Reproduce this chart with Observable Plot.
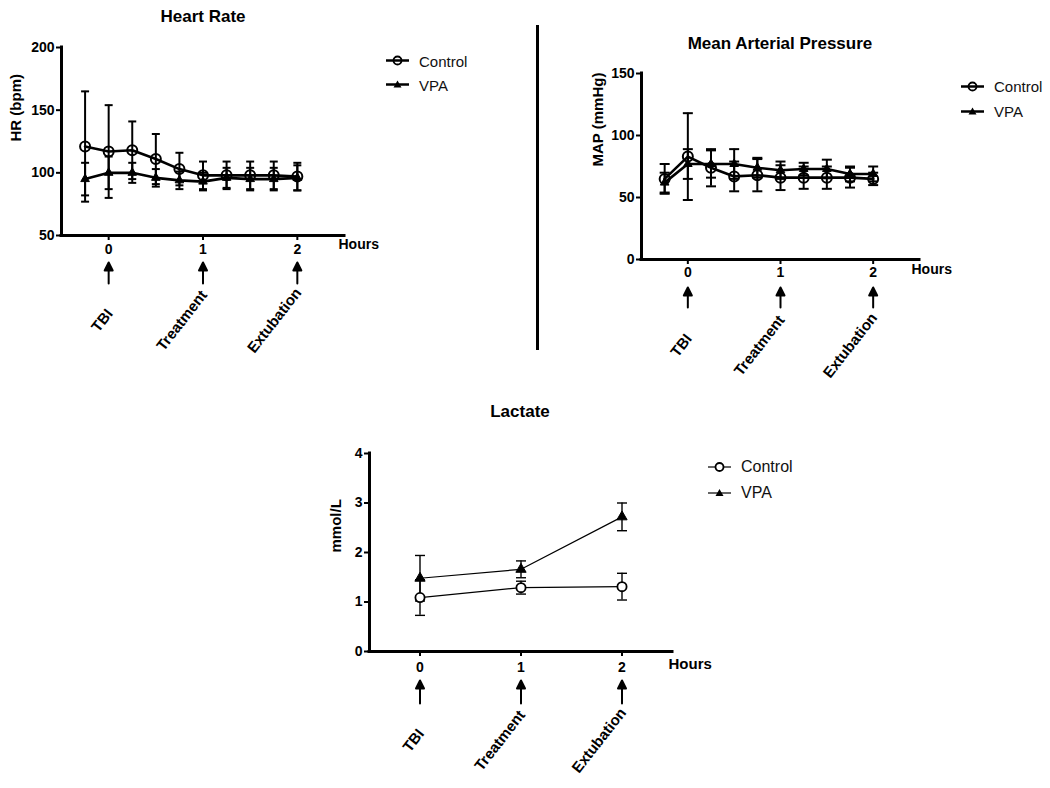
<!DOCTYPE html>
<html><head><meta charset="utf-8">
<script src="https://cdn.jsdelivr.net/npm/d3@7"></script>
<script src="https://cdn.jsdelivr.net/npm/@observablehq/plot@0.6"></script>
<style>
body{margin:0;background:#fff;}
#root{position:relative;width:1050px;height:788px;background:#fff;font-family:"Liberation Sans",Arial,sans-serif;overflow:hidden}
.title{position:absolute;font-weight:bold;font-size:17px;color:#000;transform:translate(-50%,-50%);white-space:nowrap}
.leg{position:absolute;display:flex;align-items:center;font-size:15px;color:#111;white-space:nowrap;transform:translateY(-50%)}
.panel{position:absolute}
.divider{position:absolute;background:#000}
</style></head><body><div id="root"></div>
<script>
// ---------- data ----------
const seriesNames = ["Control", "VPA"];
const hourTicks = [0, 1, 2];
const eventTime = [0, 1, 2];
const eventLabel = ["TBI", "Treatment", "Extubation"];

const hrTime = [-0.25, 0, 0.25, 0.5, 0.75, 1, 1.25, 1.5, 1.75, 2];
const hrControlMean = [121, 117, 118, 111, 103, 98, 98, 98, 98, 97];
const hrControlSD   = [44, 37, 23, 20, 13, 11, 11, 11, 11, 11];
const hrVpaMean     = [95, 100, 100, 96, 94, 93, 96, 95, 95, 96];
const hrVpaSD       = [13, 13, 8, 7, 7, 7, 8, 9, 9, 10];
const hrTicks = [50, 100, 150, 200];

const mapTime = [-0.25, 0, 0.25, 0.5, 0.75, 1, 1.25, 1.5, 1.75, 2];
const mapControlMean = [65, 83, 74, 67, 68, 66, 66, 66, 66, 65];
const mapControlSD   = [12, 35, 15, 12, 13, 10, 9, 9, 8, 5];
const mapVpaMean     = [62, 77, 77, 77, 74, 72, 73, 73, 69, 69];
const mapVpaSD       = [8, 12, 11, 12, 8, 7, 5, 7.5, 6, 6];
const mapTicks = [0, 50, 100, 150];

const lacTime = [0, 1, 2];
const lacControlMean = [1.09, 1.29, 1.31];
const lacControlSD   = [0.36, 0.13, 0.27];
const lacVpaMean     = [1.48, 1.66, 2.72];
const lacVpaSD       = [0.46, 0.17, 0.28];
const lacTicks = [0, 1, 2, 3, 4];

// ---------- helpers ----------
const FONT = "'Liberation Sans', Arial, sans-serif";
const root = document.getElementById("root");
const cv = document.createElement("canvas").getContext("2d");
function textWidth(s, font) { cv.font = font; return cv.measureText(s).width; }
function rows(time, mean, sd, name) {
  return time.map((t, i) => ({t, mean: mean[i], sd: sd[i], series: name}));
}
const events = eventTime.map((t, i) => ({t, label: eventLabel[i]}));

const capSymbol = {draw(ctx, size) { const w = Math.sqrt(size / Math.PI); ctx.moveTo(-w, 0); ctx.lineTo(w, 0); }};
const arrowShape = {draw(ctx, l) {
  const hw = 4, hl = 8;
  ctx.moveTo(0, 0); ctx.lineTo(0, -l + hl);
  ctx.moveTo(-hw, -l + hl); ctx.lineTo(0, -l); ctx.lineTo(hw, -l + hl); ctx.closePath();
}};

function panel(cfg) {
  const xDomain = [-0.5, 2.5];
  const yMin = cfg.yDomain[0];
  const ctrl = cfg.ctrl, vpa = cfg.vpa;
  const data = ctrl.concat(vpa);
  const marks = [
    Plot.ruleX(data, {x: "t", y1: d => d.mean - d.sd, y2: d => d.mean + d.sd, stroke: "black", strokeWidth: cfg.barW}),
    Plot.dot(data, {x: "t", y: d => d.mean + d.sd, symbol: capSymbol, r: cfg.capR, stroke: "black", fill: "none", strokeWidth: cfg.barW}),
    Plot.dot(data, {x: "t", y: d => d.mean - d.sd, symbol: capSymbol, r: cfg.capR, stroke: "black", fill: "none", strokeWidth: cfg.barW}),
    Plot.line(data, {x: "t", y: "mean", z: "series", stroke: "black", strokeWidth: cfg.lineW}),
    Plot.dot(vpa, {x: "t", y: "mean", symbol: "triangle", r: cfg.triR, fill: "black", stroke: "black", strokeWidth: 1}),
    Plot.dot(ctrl, {x: "t", y: "mean", symbol: "circle", r: cfg.circleR, fill: cfg.circleFill, stroke: "black", strokeWidth: cfg.circleW}),
    Plot.ruleY([yMin], {stroke: "black", strokeWidth: 3, strokeLinecap: "square"}),
    Plot.ruleX([xDomain[0]], {stroke: "black", strokeWidth: 3, strokeLinecap: "square"}),
    Plot.text([cfg.yLabel], {frameAnchor: "left", text: d => d, rotate: -90, dx: cfg.yLabelDx, fontWeight: "bold", fontSize: 15, fill: "black"}),
    Plot.text(["Hours"], {frameAnchor: "bottom-right", text: d => d, textAnchor: "start", dx: cfg.hoursDx, dy: cfg.hoursDy, fontWeight: "bold", fontSize: cfg.hoursSize, fill: "black"}),
    Plot.vector(events, {x: "t", y: () => yMin, length: cfg.arrowLen, anchor: "start", rotate: 0, dy: cfg.arrowDy, stroke: "black", fill: "black", strokeWidth: 2, shape: arrowShape})
  ];
  const ang = 52 * Math.PI / 180;
  events.forEach(ev => {
    const w = textWidth(ev.label, "bold 15px " + FONT);
    marks.push(Plot.text([ev], {x: "t", y: () => yMin, text: "label", rotate: -52, textAnchor: "middle", lineAnchor: "middle",
      dx: 1 - w * Math.cos(ang) / 2, dy: cfg.evDy, fontWeight: "bold", fontSize: 15, fill: "black"}));
  });
  const hasAxisMarks = typeof Plot.axisX === "function";
  if (hasAxisMarks) {
    marks.push(Plot.axisX({ticks: hourTicks, tickSize: 5, tickPadding: cfg.xPad, strokeWidth: 2, fontWeight: "bold", fontSize: 14, label: null, tickFormat: d => String(d)}));
    marks.push(Plot.axisY({ticks: cfg.yTicks, tickSize: 5, tickPadding: 2, strokeWidth: 2, fontWeight: "bold", fontSize: 14, label: null, tickFormat: d => String(d)}));
  }
  const svg = Plot.plot({
    width: cfg.width, height: cfg.height,
    marginLeft: cfg.mL, marginRight: cfg.mR, marginTop: cfg.mT, marginBottom: cfg.mB,
    x: Object.assign({domain: xDomain, label: null}, hasAxisMarks ? {} : {ticks: hourTicks, tickSize: 5}),
    y: Object.assign({domain: cfg.yDomain, label: null}, hasAxisMarks ? {} : {ticks: cfg.yTicks, tickSize: 5}),
    style: {fontFamily: FONT, fontSize: "14px", color: "black", background: "transparent", overflow: "visible", maxWidth: "none"},
    marks
  });
  const wrap = document.createElement("div");
  wrap.className = "panel";
  wrap.style.left = cfg.left + "px"; wrap.style.top = cfg.top + "px";
  wrap.appendChild(svg);
  root.appendChild(wrap);
}

function title(text, cx, cy) {
  const d = document.createElement("div");
  d.className = "title"; d.textContent = text;
  d.style.left = cx + "px"; d.style.top = cy + "px";
  root.appendChild(d);
}

function legend(x, ys, lineW, circleFill, fontSize) {
  seriesNames.forEach((name, i) => {
    const row = document.createElement("div");
    row.className = "leg";
    row.style.left = x + "px"; row.style.top = ys[i] + "px"; row.style.fontSize = fontSize + "px";
    const ns = "http://www.w3.org/2000/svg";
    const s = document.createElementNS(ns, "svg");
    s.setAttribute("width", 33); s.setAttribute("height", 14);
    s.style.display = "block";
    const ln = document.createElementNS(ns, "line");
    ln.setAttribute("x1", 0); ln.setAttribute("x2", 23); ln.setAttribute("y1", 7); ln.setAttribute("y2", 7);
    ln.setAttribute("stroke", "black"); ln.setAttribute("stroke-width", lineW);
    s.appendChild(ln);
    if (name === "Control") {
      const c = document.createElementNS(ns, "circle");
      c.setAttribute("cx", 11.5); c.setAttribute("cy", 7); c.setAttribute("r", 4);
      c.setAttribute("fill", circleFill); c.setAttribute("stroke", "black"); c.setAttribute("stroke-width", 1.8);
      s.appendChild(c);
    } else {
      const p = document.createElementNS(ns, "path");
      p.setAttribute("d", "M11.5,3L15.5,10L7.5,10Z");
      p.setAttribute("fill", "black");
      s.appendChild(p);
    }
    row.appendChild(s);
    const t = document.createElement("span");
    t.textContent = name;
    row.appendChild(t);
    root.appendChild(row);
  });
}

// ---------- panels ----------
panel({left: 0, top: 0, width: 400, height: 380, mL: 61, mR: 56, mT: 47, mB: 145,
  yDomain: [50, 200], yTicks: hrTicks, yLabel: "HR (bpm)", yLabelDx: -45,
  ctrl: rows(hrTime, hrControlMean, hrControlSD, "Control"), vpa: rows(hrTime, hrVpaMean, hrVpaSD, "VPA"),
  lineW: 2.6, barW: 2, capR: 4, circleR: 5, circleW: 2, circleFill: "none", triR: 3.2,
  hoursDx: -6, hoursDy: 13, hoursSize: 14, arrowDy: 48, arrowLen: 21, evDy: 85, xPad: 4});

panel({left: 580, top: 0, width: 400, height: 400, mL: 61, mR: 61, mT: 73, mB: 141,
  yDomain: [0, 150], yTicks: mapTicks, yLabel: "MAP (mmHg)", yLabelDx: -43,
  ctrl: rows(mapTime, mapControlMean, mapControlSD, "Control"), vpa: rows(mapTime, mapVpaMean, mapVpaSD, "VPA"),
  lineW: 2.6, barW: 2, capR: 5, circleR: 5, circleW: 2, circleFill: "none", triR: 3.2,
  hoursDx: -8, hoursDy: 14, hoursSize: 14, arrowDy: 48, arrowLen: 20, evDy: 86, xPad: 3});

panel({left: 300, top: 400, width: 420, height: 388, mL: 69, mR: 48, mT: 53, mB: 137,
  yDomain: [0, 4], yTicks: lacTicks, yLabel: "mmol/L", yLabelDx: -33,
  ctrl: rows(lacTime, lacControlMean, lacControlSD, "Control"), vpa: rows(lacTime, lacVpaMean, lacVpaSD, "VPA"),
  lineW: 1.2, barW: 1.4, capR: 5, circleR: 4.6, circleW: 1.8, circleFill: "white", triR: 3.8,
  hoursDx: -4, hoursDy: 17, hoursSize: 15, arrowDy: 52, arrowLen: 23, evDy: 89, xPad: 6});

// ---------- titles, legends, divider ----------
title("Heart Rate", 203, 17);
title("Mean Arterial Pressure", 780, 44);
title("Lactate", 520, 412);

legend(386, [60.5, 84.5], 2.6, "none", 15);
legend(961, [86, 111], 2.6, "none", 15);
legend(708, [467, 493], 1.2, "white", 16);

const dv = document.createElement("div");
dv.className = "divider";
dv.style.left = "536px"; dv.style.top = "25px"; dv.style.width = "3px"; dv.style.height = "325px";
root.appendChild(dv);
</script></body></html>
